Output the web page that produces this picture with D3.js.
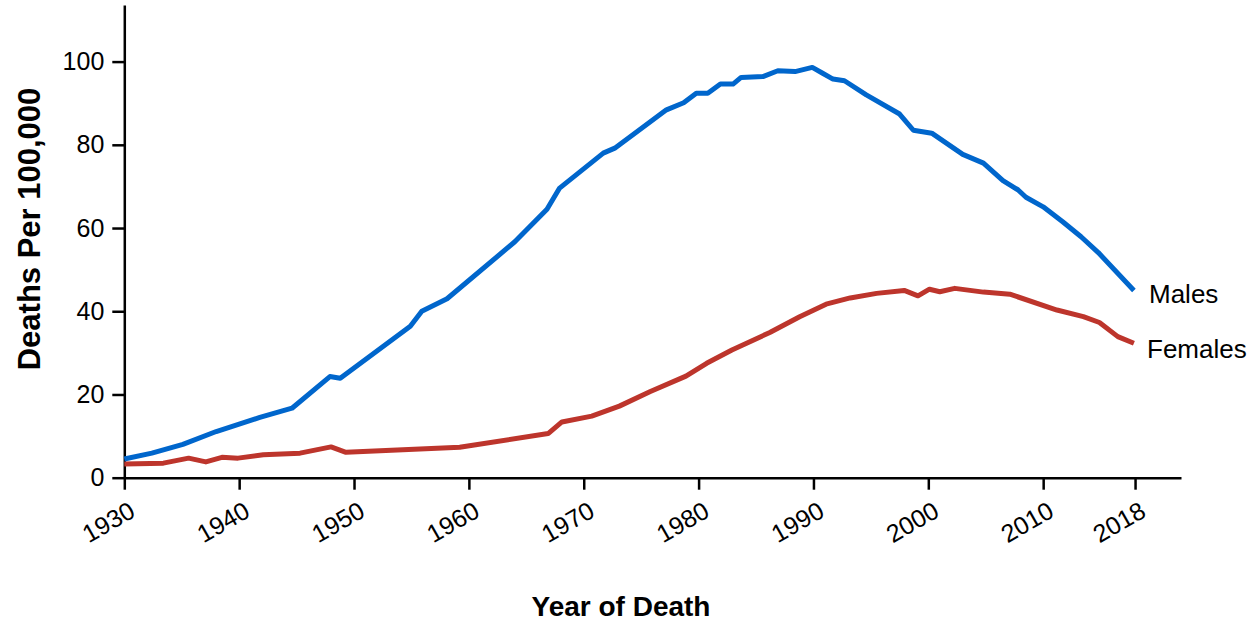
<!DOCTYPE html>
<html>
<head>
<meta charset="utf-8">
<script src="https://cdn.jsdelivr.net/npm/d3@7"></script>
<style>
  html, body { margin: 0; padding: 0; background: #fff; }
  svg { display: block; }
  text { font-family: "Liberation Sans", Arial, Helvetica, sans-serif; fill: #000; }
</style>
</head>
<body>
<svg id="chart" width="1250" height="621"></svg>
<script>
// ---- data ----
const maleYears = [1930, 1932.4, 1935.1, 1938.0, 1941.8, 1944.6, 1947.9, 1948.8, 1954.9, 1955.9, 1958.1,
  1964.0, 1966.8, 1967.9, 1971.7, 1972.7, 1977.2, 1978.7, 1979.8, 1980.8, 1981.9, 1983.0, 1983.7,
  1985.6, 1986.9, 1988.4, 1989.9, 1990.8, 1991.7, 1992.7, 1994.6, 1997.5, 1998.7, 2000.3, 2003.0,
  2004.8, 2006.5, 2007.8, 2008.5, 2010.0, 2011.7, 2013.3, 2014.8, 2017.9];
const maleValues = [4.5, 5.9, 8.0, 11.1, 14.5, 16.7, 24.3, 23.9, 36.4, 40.0, 43.0,
  56.7, 64.5, 69.6, 78.0, 79.2, 88.4, 90.1, 92.4, 92.4, 94.6, 94.6, 96.2,
  96.4, 97.8, 97.6, 98.6, 97.2, 95.8, 95.4, 92.0, 87.4, 83.5, 82.8, 77.7,
  75.6, 71.4, 69.2, 67.4, 65.1, 61.5, 57.9, 54.1, 45.0];
const femaleYears = [1930, 1933.4, 1935.6, 1937.1, 1938.5, 1939.9, 1942.1, 1945.3, 1948.0, 1949.3, 1959.2,
  1966.9, 1968.1, 1970.7, 1973.1, 1975.8, 1978.9, 1980.7, 1982.9, 1986.2, 1988.8, 1991.1, 1993.2,
  1995.5, 1997.9, 1999.1, 2000.1, 2001.0, 2002.3, 2004.8, 2007.1, 2011.2, 2013.5, 2014.9, 2016.5, 2017.9];
const femaleValues = [3.3, 3.5, 4.7, 3.8, 4.9, 4.7, 5.5, 5.9, 7.4, 6.1, 7.3,
  10.6, 13.4, 14.8, 17.2, 20.7, 24.4, 27.5, 30.7, 34.9, 38.7, 41.7, 43.2,
  44.3, 45.0, 43.7, 45.3, 44.7, 45.5, 44.6, 44.1, 40.3, 38.7, 37.3, 33.9, 32.3];
const xTickValues = [1930, 1940, 1950, 1960, 1970, 1980, 1990, 2000, 2010, 2018];
const yTickValues = [0, 20, 40, 60, 80, 100];
const seriesNames = ["Males", "Females"];
const xTitle = "Year of Death";
const yTitle = "Deaths Per 100,000";

// ---- layout ----
const svg = d3.select("#chart");
const x = d3.scaleLinear().domain([1930, 2022]).range([124.3, 1181]);
const y = d3.scaleLinear().domain([0, 113.6]).range([477.7, 5]);

const colors = { Males: "#0066cc", Females: "#bd352c" };

// axes
const xAxis = svg.append("g")
  .attr("transform", `translate(0,${y(0)})`)
  .call(d3.axisBottom(x).tickValues(xTickValues).tickFormat(d3.format("d")).tickSize(12).tickSizeOuter(0));
xAxis.select(".domain").attr("stroke", "#000").attr("stroke-width", 2.5);
xAxis.selectAll(".tick line").attr("stroke", "#000").attr("stroke-width", 2.5);
xAxis.selectAll(".tick text")
  .attr("font-size", 25)
  .attr("text-anchor", "end")
  .attr("dy", null)
  .attr("y", null)
  .attr("transform", "translate(12,38) rotate(-30)");

const yAxis = svg.append("g")
  .attr("transform", `translate(${x(1930)},0)`)
  .call(d3.axisLeft(y).tickValues(yTickValues).tickSize(12).tickSizeOuter(0).tickPadding(8));
yAxis.select(".domain").attr("stroke", "#000").attr("stroke-width", 2.5);
yAxis.selectAll(".tick line").attr("stroke", "#000").attr("stroke-width", 2.5);
yAxis.selectAll(".tick text").attr("font-size", 25);

// lines
const line = d3.line().x(d => x(d[0])).y(d => y(d[1]));
const maleData = d3.zip(maleYears, maleValues);
const femaleData = d3.zip(femaleYears, femaleValues);

svg.append("path").datum(femaleData)
  .attr("d", line).attr("fill", "none")
  .attr("stroke", colors.Females).attr("stroke-width", 5).attr("stroke-linejoin", "round");
svg.append("path").datum(maleData)
  .attr("d", line).attr("fill", "none")
  .attr("stroke", colors.Males).attr("stroke-width", 5).attr("stroke-linejoin", "round");

// series labels
svg.append("text").attr("x", 1149).attr("y", 303).attr("font-size", 26).text(seriesNames[0]);
svg.append("text").attr("x", 1147).attr("y", 358).attr("font-size", 26).text(seriesNames[1]);

// axis titles
svg.append("text").attr("x", 621).attr("y", 616).attr("text-anchor", "middle")
  .attr("font-size", 28).attr("font-weight", "bold").text(xTitle);
svg.append("text").attr("transform", "translate(40,229) rotate(-90)").attr("text-anchor", "middle")
  .attr("font-size", 31).attr("font-weight", "bold").text(yTitle);
</script>
</body>
</html>
